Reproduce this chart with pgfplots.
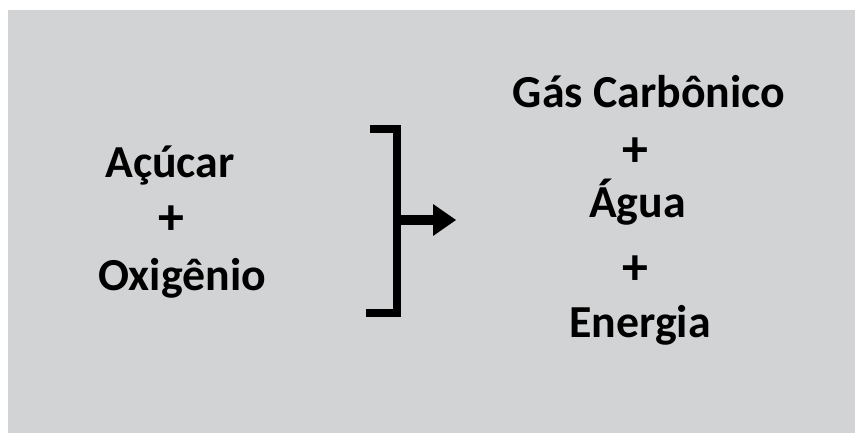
\documentclass[border=0pt]{standalone}
\usepackage{fontspec}
\setmainfont{Carlito}
\usepackage{pgfplots}
\pgfplotsset{compat=1.18}
\definecolor{bggray}{RGB}{210,211,213}
\begin{document}
\begin{tikzpicture}
\begin{axis}[
  width=855bp, height=433bp, scale only axis,
  xmin=0, xmax=855, ymin=0, ymax=433, y dir=reverse,
  hide axis, clip=false,
]
% page extent
\addplot[draw=none, forget plot] coordinates {(0,0) (855,433)};
% background panel
\addplot[fill=bggray, draw=none, forget plot] coordinates {(8,10) (855,10) (855,433) (8,433)} -- cycle;
% bracket
\addplot[black, line width=8bp, line join=miter, line cap=butt, forget plot] coordinates {(370,129) (397,129) (397,313) (366,313)};
% arrow shaft
\addplot[black, line width=10bp, line cap=butt, forget plot] coordinates {(397,220) (434,220)};
% arrow head
\addplot[fill=black, draw=none, forget plot] coordinates {(433,204) (456,220) (433,236)} -- cycle;
% texts
\begin{scope}[every node/.style={font=\fontsize{46}{48}\selectfont\bfseries, inner sep=0pt, text=black}]
\node[anchor=base] at (axis cs:170,177) {Açúcar};
\node[anchor=base] at (axis cs:182,290) {Oxigênio};
\node[anchor=base] at (axis cs:649,107) {Gás Carbônico};
\node[anchor=base] at (axis cs:637.5,217) {Água};
\node[anchor=base] at (axis cs:640,337) {Energia};
\end{scope}
\begin{scope}[every node/.style={font=\fontsize{52}{54}\selectfont\bfseries, inner sep=0pt, text=black}]
\node[anchor=center] at (axis cs:171,220) {+};
\node[anchor=center] at (axis cs:635,152) {+};
\node[anchor=center] at (axis cs:635,270) {+};
\end{scope}
\end{axis}
\end{tikzpicture}
\end{document}
